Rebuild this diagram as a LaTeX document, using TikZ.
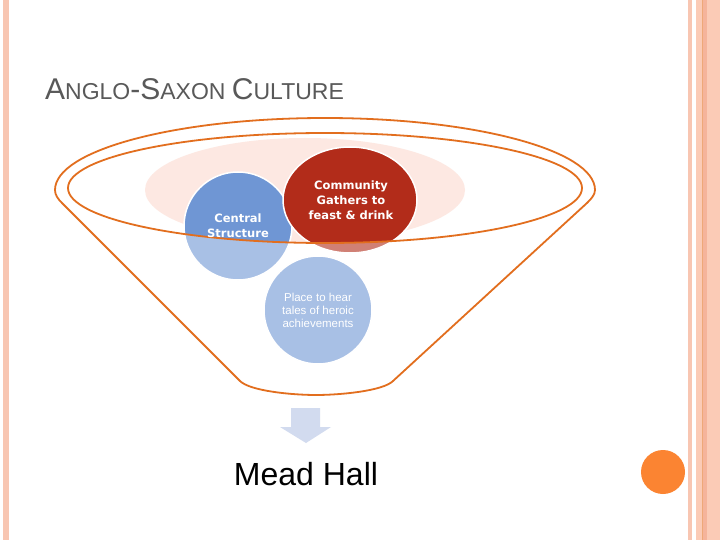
\documentclass[tikz,border=0pt]{standalone}
\usepackage{fontspec}
\setmainfont{Liberation Sans}
\definecolor{rimorange}{RGB}{226,110,30}
\definecolor{pinkbg}{RGB}{253,232,226}
\definecolor{bluec}{RGB}{111,150,212}
\definecolor{redc}{RGB}{178,44,26}
\definecolor{arrowblue}{RGB}{210,219,239}
\definecolor{stripe}{RGB}{248,198,178}
\definecolor{stripeb}{RGB}{251,203,182}
\definecolor{stripec}{RGB}{245,180,155}
\definecolor{dot}{RGB}{251,132,50}
\definecolor{titlegray}{RGB}{89,89,89}
\tikzset{
  bubble/.style={draw=white, line width=1.5pt},
  boldtxt/.style={text=white, align=center, font=\fontspec{DejaVu Sans}\bfseries\fontsize{11.5}{15}\selectfont},
  lighttxt/.style={text=white, align=center, font=\fontsize{11.5}{13}\selectfont},
  rim/.style={draw=rimorange, line width=1.8pt}
}
\begin{document}
\begin{tikzpicture}[x=1pt,y=-1pt]
\useasboundingbox (0,0) rectangle (720,540);
\fill[white] (0,0) rectangle (720,540);
% page borders
\fill[stripe] (3,0) rectangle (9,540);
\fill[stripe] (688,0) rectangle (692,540);
\fill[stripeb] (696,0) rectangle (720,540);
\fill[stripec] (702,0) rectangle (707,540);
\draw[rimorange!60, line width=0.6pt] (702,0) -- (702,540);
% orange dot
\node[circle, fill=dot, minimum size=44pt, inner sep=0pt] (dot) at (663,472) {};
% title
\node[anchor=base west, inner sep=0pt, text=titlegray] (title) at (45,100)
  {{\fontsize{30}{30}\selectfont A}{\fontsize{23}{23}\selectfont NGLO}{\fontsize{30}{30}\selectfont -S}{\fontsize{23}{23}\selectfont AXON }{\fontsize{30}{30}\selectfont C}{\fontsize{23}{23}\selectfont ULTURE}};
% pink background ellipse
\fill[pinkbg] (305,190) ellipse [x radius=160, y radius=52];
% circles
\fill[bluec, bubble] (238,226) circle [radius=54];
\fill[redc, bubble] (350,200) ellipse [x radius=67, y radius=53];
\fill[bluec, bubble] (318,310) circle [radius=54];
% funnel body overlay (funnel minus inner ellipse)
\fill[white, fill opacity=0.4, even odd rule]
  (55,190) arc[start angle=180, end angle=360, x radius=270, y radius=72]
  .. controls (595,195) and (591,199) .. (587,203)
  -- (393,381) .. controls (383,391) and (340,395) .. (316,395)
  .. controls (292,395) and (250,391) .. (240,381)
  -- (62,203) .. controls (58,199) and (55,195) .. (55,190) -- cycle
  (325,188) ellipse [x radius=257, y radius=55];
% rims
\draw[rim] (325,188) ellipse [x radius=257, y radius=55];
\draw[rim, line join=round]
  (55,190) arc[start angle=180, end angle=360, x radius=270, y radius=72]
  .. controls (595,195) and (591,199) .. (587,203)
  -- (393,381) .. controls (383,391) and (340,395) .. (316,395)
  .. controls (292,395) and (250,391) .. (240,381)
  -- (62,203) .. controls (58,199) and (55,195) .. (55,190) -- cycle;
% texts
\node[boldtxt] (central) at (238,226) {Central\\Structure};
\node[boldtxt] (community) at (351,200) {Community\\Gathers to\\feast \& drink};
\node[lighttxt] (place) at (318,310) {Place to hear\\tales of heroic\\achievements};
% arrow
\fill[arrowblue] (291,408) -- (320,408) -- (320,427) -- (331,427) -- (306,443) -- (280,427) -- (291,427) -- cycle;
\coordinate (arrowtip) at (306,443);
% result
\node[anchor=base, inner sep=0pt, font=\fontsize{32}{32}\selectfont] (mead) at (306,485) {Mead Hall};
\end{tikzpicture}
\end{document}
